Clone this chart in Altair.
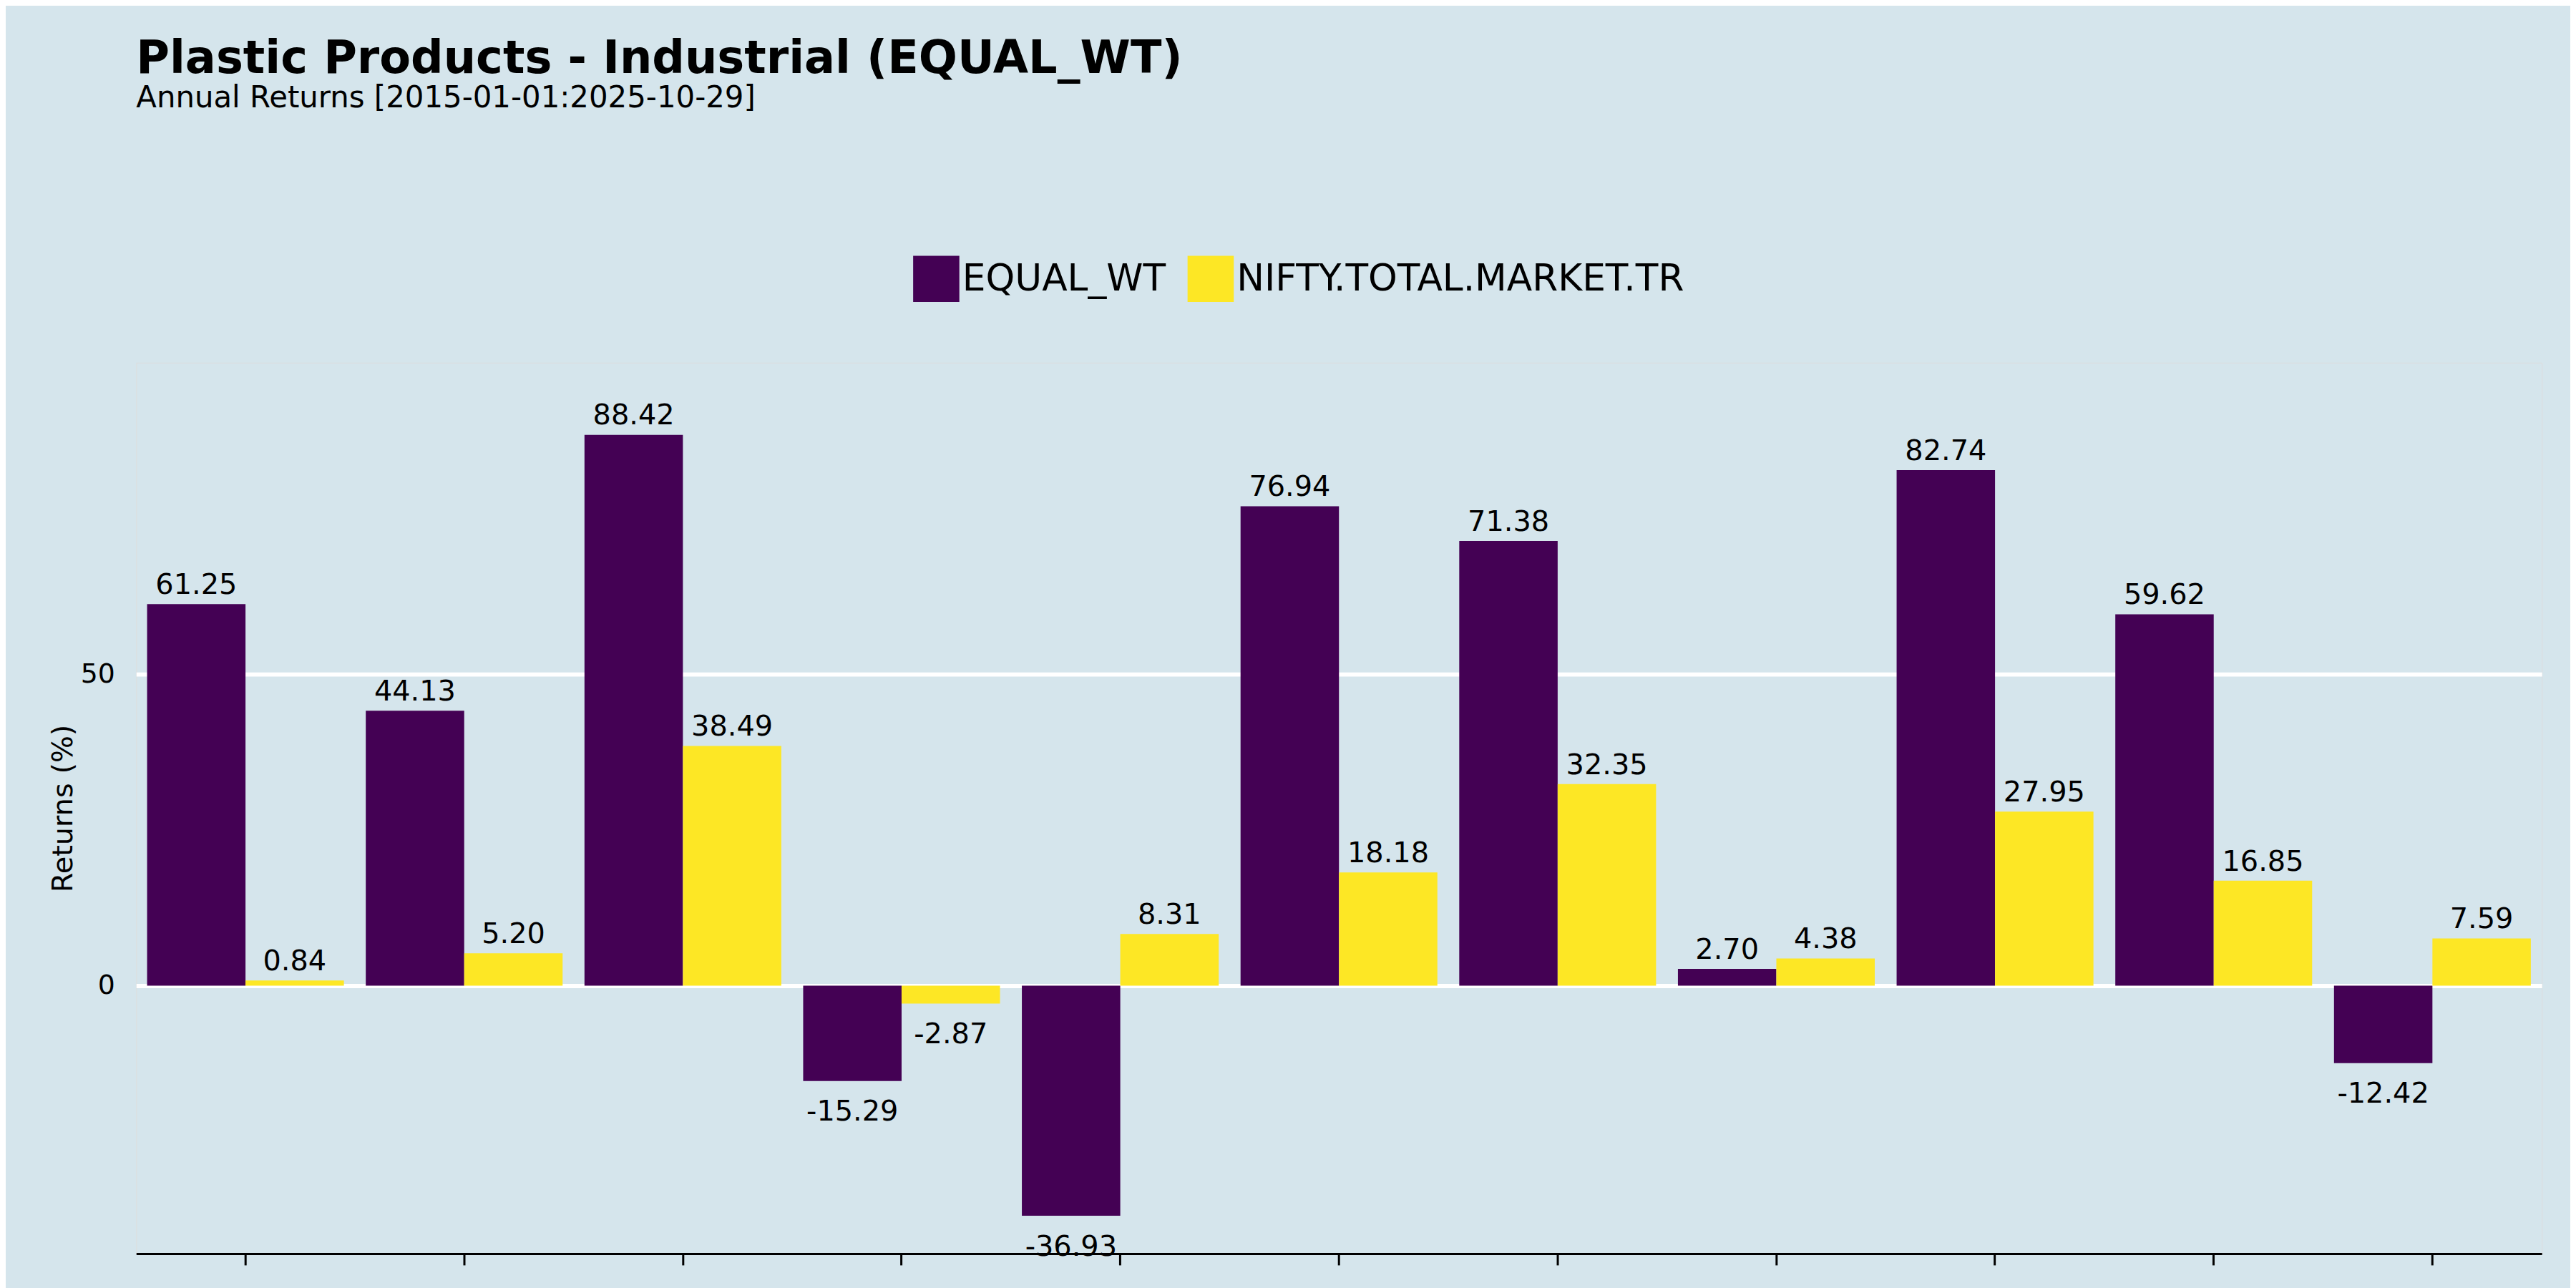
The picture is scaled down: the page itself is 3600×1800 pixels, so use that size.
import altair as alt
import pandas as pd

years = [str(y) for y in range(2015, 2026)]
equal_wt = [61.25, 44.13, 88.42, -15.29, -36.93, 76.94, 71.38, 2.70, 82.74, 59.62, -12.42]
nifty = [0.84, 5.20, 38.49, -2.87, 8.31, 18.18, 32.35, 4.38, 27.95, 16.85, 7.59]
series = ["EQUAL_WT", "NIFTY.TOTAL.MARKET.TR"]

rows = []
for i, y in enumerate(years):
    rows.append({"Year": y, "Series": series[0], "Value": equal_wt[i]})
    rows.append({"Year": y, "Series": series[1], "Value": nifty[i]})
df = pd.DataFrame(rows)
df["Label"] = df["Value"].map(lambda v: f"{v:.2f}")
df["LabelY"] = df["Value"].map(lambda v: v + 3 if v >= 0 else v - 5)

W, H = 3375, 1250
FONT = "DejaVu Sans"

base = alt.Chart(df).encode(
    x=alt.X("Year:N", title="Year", scale=alt.Scale(paddingInner=0.1, paddingOuter=0.05),
            axis=alt.Axis(labelAngle=0, labelFontSize=38, titleFontSize=40, labelPadding=30,
                          titlePadding=2, domainColor="black", domainWidth=3, tickColor="black",
                          tickSize=16, tickWidth=3, grid=False)),
    xOffset=alt.XOffset("Series:N", sort=series),
)

bars = base.mark_bar().encode(
    y=alt.Y("Value:Q", title="Returns (%)", scale=alt.Scale(domain=[-43, 100], nice=False),
            axis=alt.Axis(values=[0, 50], labelFontSize=38, titleFontSize=40, grid=True,
                          gridColor="white", gridWidth=6, domain=False, ticks=False,
                          labelPadding=30)),
    color=alt.Color("Series:N", sort=series,
                    scale=alt.Scale(domain=series, range=["#440154", "#fde725"]),
                    legend=alt.Legend(title=None, orient="none", direction="horizontal",
                                      legendX=1090, legendY=-150, labelLimit=0,
                                      labelFontSize=52, symbolType="square", symbolSize=4200,
                                      symbolStrokeWidth=0, columnPadding=30)),
)

labels = base.mark_text(fontSize=40, color="black", font=FONT).encode(
    y=alt.Y("LabelY:Q"),
    text="Label:N",
)

foot = alt.Chart(pd.DataFrame({"t": ["@StockViz"]})).mark_text(
    fontSize=32, align="right", font=FONT, color="black"
).encode(x=alt.value(W + 10), y=alt.value(H + 160), text="t:N")

chart = alt.layer(bars, labels, foot).properties(
    width=W, height=H,
    background="#d5e5ec",
    padding={"left": 60, "top": 40, "right": 30, "bottom": 10},
    title=alt.TitleParams("Plastic Products - Industrial (EQUAL_WT)",
                          subtitle="Annual Returns [2015-01-01:2025-10-29]",
                          anchor="start", fontSize=64, subtitleFontSize=42,
                          font=FONT, subtitleFont=FONT, fontWeight="bold",
                          subtitlePadding=2, offset=200, frame="group"),
).configure_view(stroke=None).configure(font=FONT).configure_axis(
    labelFont=FONT, titleFont=FONT, titleFontWeight="normal")

chart.save("out.html", embed_options={"renderer": "svg", "actions": False})
